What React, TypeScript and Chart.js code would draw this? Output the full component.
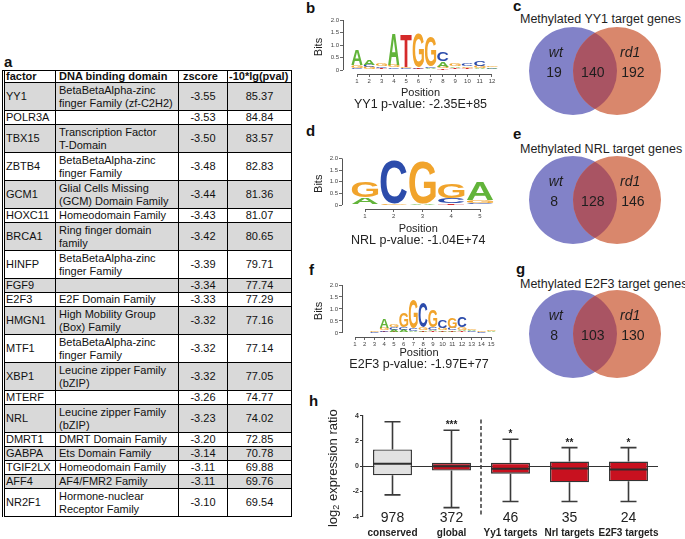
import React, { useEffect, useRef } from 'react';
import { Chart, registerables } from 'chart.js';

Chart.register(...registerables);

const FONT = '"Liberation Sans", Arial, Helvetica, sans-serif';
Chart.defaults.font.family = FONT;

// ---------------- panel a: table ----------------
const tableHeader = ['factor', 'DNA binding domain', 'zscore', '-10*lg(pval)'];
const factors = ['YY1', 'POLR3A', 'TBX15', 'ZBTB4', 'GCM1', 'HOXC11', 'BRCA1', 'HINFP', 'FGF9', 'E2F3',
  'HMGN1', 'MTF1', 'XBP1', 'MTERF', 'NRL', 'DMRT1', 'GABPA', 'TGIF2LX', 'AFF4', 'NR2F1'];
const domains = [
  'BetaBetaAlpha-zinc\nfinger Family (zf-C2H2)', '', 'Transcription Factor\nT-Domain',
  'BetaBetaAlpha-zinc\nfinger Family', 'Glial Cells Missing\n(GCM) Domain Family', 'Homeodomain Family',
  'Ring finger domain\nfamily', 'BetaBetaAlpha-zinc\nfinger Family', '', 'E2F Domain Family',
  'High Mobility Group\n(Box) Family', 'BetaBetaAlpha-zinc\nfinger Family', 'Leucine zipper Family\n(bZIP)',
  '', 'Leucine zipper Family\n(bZIP)', 'DMRT Domain Family', 'Ets Domain Family', 'Homeodomain Family',
  'AF4/FMR2 Family', 'Hormone-nuclear\nReceptor Family'];
const zscores = ['-3.55', '-3.53', '-3.50', '-3.48', '-3.44', '-3.43', '-3.42', '-3.39', '-3.34', '-3.33',
  '-3.32', '-3.32', '-3.32', '-3.26', '-3.23', '-3.20', '-3.14', '-3.11', '-3.11', '-3.10'];
const pvals = ['85.37', '84.84', '83.57', '82.83', '81.36', '81.07', '80.65', '79.71', '77.74', '77.29',
  '77.16', '77.14', '77.05', '74.77', '74.02', '72.85', '70.78', '69.88', '69.76', '69.54'];

// ---------------- motifs (bottom -> top, bits) ----------------
type Col = [string, number][];
const yy1Motif: Col[] = [
  [['T', 0.03], ['C', 0.05], ['G', 0.12], ['A', 0.62]],
  [['T', 0.03], ['G', 0.08], ['C', 0.1], ['A', 0.2]],
  [['A', 0.04], ['T', 0.05], ['C', 0.07], ['G', 0.12]],
  [['T', 0.04], ['C', 0.06], ['G', 0.12], ['A', 1.24]],
  [['A', 0.03], ['C', 0.04], ['G', 0.05], ['T', 1.3]],
  [['A', 0.02], ['C', 0.03], ['T', 0.07], ['G', 1.35]],
  [['T', 0.03], ['A', 0.04], ['C', 0.06], ['G', 1.2]],
  [['T', 0.06], ['G', 0.08], ['A', 0.2], ['C', 0.38]],
  [['C', 0.03], ['T', 0.05], ['A', 0.06], ['G', 0.1]],
  [['A', 0.03], ['T', 0.05], ['G', 0.07], ['C', 0.1]],
  [['T', 0.03], ['A', 0.05], ['G', 0.08], ['C', 0.2]],
  [['T', 0.02], ['C', 0.04], ['A', 0.05], ['G', 0.07]],
];
const nrlMotif: Col[] = [
  [['T', 0.03], ['A', 0.3], ['G', 0.65]],
  [['A', 0.02], ['G', 0.03], ['C', 1.88]],
  [['T', 0.02], ['A', 0.03], ['G', 1.8]],
  [['T', 0.07], ['C', 0.22], ['G', 0.6]],
  [['C', 0.1], ['G', 0.12], ['A', 0.78]],
];
const e2f3Motif: Col[] = [
  [['A', 0.01], ['C', 0.01], ['G', 0.02]],
  [['T', 0.01], ['C', 0.02], ['G', 0.02]],
  [['A', 0.02], ['C', 0.03], ['G', 0.04]],
  [['T', 0.05], ['C', 0.07], ['G', 0.1], ['A', 0.4]],
  [['T', 0.06], ['A', 0.08], ['C', 0.09], ['G', 0.1]],
  [['T', 0.04], ['A', 0.08], ['C', 0.12], ['G', 0.62]],
  [['T', 0.03], ['A', 0.06], ['C', 0.12], ['G', 1.18]],
  [['T', 0.05], ['A', 0.07], ['G', 0.13], ['C', 1.05]],
  [['T', 0.07], ['A', 0.06], ['C', 0.12], ['G', 0.7]],
  [['T', 0.05], ['A', 0.06], ['G', 0.1], ['C', 0.33]],
  [['T', 0.06], ['A', 0.06], ['C', 0.1], ['G', 0.45]],
  [['T', 0.08], ['A', 0.06], ['G', 0.1], ['C', 0.44]],
  [['T', 0.03], ['C', 0.04], ['A', 0.04], ['G', 0.05]],
  [['A', 0.02], ['C', 0.03], ['G', 0.04]],
  [['C', 0.03], ['A', 0.05], ['G', 0.07]],
];
const bitTicks = [0, 0.5, 1, 1.5, 2];
const letterColors: Record<string, string> = { A: '#62b43a', C: '#2c4cab', G: '#f1a42c', T: '#d52a2a' };

// ---------------- venn ----------------
const vennGroups = ['wt', 'rd1'];
const yy1Venn = [19, 140, 192];
const nrlVenn = [8, 128, 146];
const e2f3Venn = [8, 103, 130];
const vennCenters = [-0.5, 0.5];
const vennRadius = 1;

// ---------------- box plot ----------------
const boxNames = ['conserved', 'global', 'Yy1 targets', 'Nrl targets', 'E2F3 targets'];
const boxCounts = ['978', '372', '46', '35', '24'];
const boxMin = [-2.27, -3.28, -2.8, -2.8, -2.8];
const boxQ1 = [-0.72, -0.35, -0.59, -1.28, -1.2];
const boxMedian = [0.19, 0.0, -0.21, -0.19, -0.27];
const boxQ3 = [1.33, 0.27, 0.27, 0.37, 0.37];
const boxMax = [3.52, 2.85, 2.13, 1.47, 1.47];
const boxStars = ['', '***', '*', '**', '*'];
const boxFill = ['#e2e2e2', '#c8111f', '#c8111f', '#c8111f', '#c8111f'];

function drawGlyph(ctx: CanvasRenderingContext2D, ch: string, color: string, left: number, top: number, w: number, h: number) {
  if (h < 0.4 || w <= 0) return;
  ctx.save();
  ctx.font = `bold 100px ${FONT}`;
  const m = ctx.measureText(ch);
  const gw = m.actualBoundingBoxLeft + m.actualBoundingBoxRight;
  const gh = m.actualBoundingBoxAscent + m.actualBoundingBoxDescent;
  ctx.translate(left, top);
  ctx.scale(w / gw, h / gh);
  ctx.fillStyle = color;
  ctx.textBaseline = 'alphabetic';
  ctx.textAlign = 'left';
  ctx.fillText(ch, m.actualBoundingBoxLeft, m.actualBoundingBoxAscent);
  ctx.restore();
}

const logoPlugin = {
  id: 'logo',
  afterDatasetsDraw(chart: any) {
    const ctx: CanvasRenderingContext2D = chart.ctx;
    const meta = chart.getDatasetMeta(0);
    const data = chart.data.datasets[0].data;
    meta.data.forEach((el: any, i: number) => {
      const { x, y, base, width } = el.getProps(['x', 'y', 'base', 'width'], true);
      const p = data[i];
      drawGlyph(ctx, p.ch, letterColors[p.ch], x - width / 2, Math.min(y, base), width, Math.abs(base - y));
    });
    const xs = chart.scales.x, ys = chart.scales.y;
    const n = chart.options.plugins.logo.n;
    ctx.save();
    ctx.strokeStyle = '#555';
    ctx.lineWidth = 1;
    ctx.beginPath();
    const ax = Math.round(chart.chartArea.left) + 0.5;
    ctx.moveTo(ax, ys.getPixelForValue(0));
    ctx.lineTo(ax, ys.getPixelForValue(2));
    const ay = Math.round(chart.chartArea.bottom) + 0.5;
    ctx.moveTo(xs.getPixelForValue(1), ay);
    ctx.lineTo(xs.getPixelForValue(n), ay);
    ctx.stroke();
    ctx.fillStyle = '#222';
    ctx.font = `12.5px ${FONT}`;
    ctx.textAlign = 'center';
    ctx.textBaseline = 'middle';
    const cx = (chart.chartArea.left + chart.chartArea.right) / 2;
    ctx.fillText(chart.options.plugins.logo.pLabel, cx, chart.chartArea.bottom + chart.options.plugins.logo.pOffset);
    ctx.restore();
  },
};

function logoConfig(motif: Col[], o: any) {
  const points: any[] = [];
  motif.forEach((col, i) => {
    let base = 0;
    col.forEach(([ch, h]) => {
      points.push({ x: i + 1, y: [base, base + h], ch });
      base += h;
    });
  });
  return {
    type: 'bar',
    data: {
      datasets: [{ data: points, backgroundColor: 'rgba(0,0,0,0)', borderWidth: 0, barPercentage: 1, categoryPercentage: 0.92 }],
    },
    options: {
      animation: false,
      responsive: false,
      events: [],
      layout: { padding: { top: o.padTop, right: o.padRight, left: 0, bottom: 0 } },
      plugins: {
        legend: { display: false },
        tooltip: { enabled: false },
        logo: { n: motif.length, pLabel: o.pLabel, pOffset: o.pOffset },
      },
      scales: {
        x: {
          type: 'linear',
          min: o.xmin,
          max: o.xmax,
          offset: false,
          afterBuildTicks: (s: any) => { s.ticks = motif.map((_, i) => ({ value: i + 1 })); },
          afterFit: (s: any) => { s.height = o.xHeight; },
          ticks: { font: { size: 6 }, color: '#444', padding: 1, autoSkip: false, maxRotation: 0, minRotation: 0 },
          grid: { display: true, drawOnChartArea: false, drawTicks: true, tickLength: 3, color: '#666', offset: false },
          border: { display: false },
          title: { display: true, text: 'Position', font: { size: 11 }, color: '#222', padding: { top: 0, bottom: o.titlePad } },
        },
        y: {
          type: 'linear',
          min: o.ymin,
          max: 2,
          afterBuildTicks: (s: any) => { s.ticks = bitTicks.map((v) => ({ value: v })); },
          afterFit: (s: any) => { s.width = o.yWidth; },
          ticks: { font: { size: 6 }, color: '#444', padding: 1 },
          grid: { display: true, drawOnChartArea: false, drawTicks: true, tickLength: 3, color: '#666' },
          border: { display: false },
          title: { display: true, text: 'Bits', font: { size: 11 }, color: '#222', padding: { top: 12, bottom: 0 } },
        },
      },
    },
    plugins: [logoPlugin],
  };
}

const vennPlugin = {
  id: 'venn',
  beforeDatasetsDraw(chart: any) {
    const ctx: CanvasRenderingContext2D = chart.ctx;
    const xs = chart.scales.x, ys = chart.scales.y;
    const r = xs.getPixelForValue(vennRadius) - xs.getPixelForValue(0);
    const cy = ys.getPixelForValue(0);
    const c1 = xs.getPixelForValue(vennCenters[0]);
    const c2 = xs.getPixelForValue(vennCenters[1]);
    const circle = (cx: number) => { ctx.beginPath(); ctx.arc(cx, cy, r, 0, Math.PI * 2); };
    ctx.save();
    ctx.fillStyle = '#8282c8';
    circle(c1); ctx.fill();
    ctx.fillStyle = '#d9876c';
    circle(c2); ctx.fill();
    circle(c1); ctx.clip();
    ctx.fillStyle = '#a95463';
    circle(c2); ctx.fill();
    ctx.restore();
  },
  afterDatasetsDraw(chart: any) {
    const ctx: CanvasRenderingContext2D = chart.ctx;
    const data = chart.data.datasets[0].data;
    const meta = chart.getDatasetMeta(0);
    ctx.save();
    ctx.fillStyle = '#1e1e1e';
    ctx.textAlign = 'center';
    ctx.textBaseline = 'middle';
    meta.data.forEach((pt: any, i: number) => {
      const d = data[i];
      ctx.font = d.italic ? `italic 14px ${FONT}` : `14px ${FONT}`;
      ctx.fillText(d.text, pt.x, pt.y);
    });
    ctx.restore();
  },
};

function vennConfig(counts: number[]) {
  const pts = [
    { x: -0.89, y: 0.41, text: vennGroups[0], italic: true },
    { x: 0.8, y: 0.41, text: vennGroups[1], italic: true },
    { x: -0.93, y: -0.05, text: String(counts[0]) },
    { x: -0.05, y: -0.05, text: String(counts[1]) },
    { x: 0.86, y: -0.05, text: String(counts[2]) },
  ];
  return {
    type: 'scatter',
    data: { datasets: [{ data: pts, pointRadius: 0 }] },
    options: {
      animation: false,
      responsive: false,
      events: [],
      layout: { padding: 0 },
      plugins: { legend: { display: false }, tooltip: { enabled: false } },
      scales: {
        x: { display: false, min: -72 / 44, max: 72 / 44 },
        y: { display: false, min: -46 / 44, max: 46 / 44 },
      },
    },
    plugins: [vennPlugin],
  };
}

const boxPlugin = {
  id: 'boxplot',
  beforeDatasetsDraw(chart: any) {
    const ctx: CanvasRenderingContext2D = chart.ctx;
    const { chartArea } = chart;
    const xs = chart.scales.x, ys = chart.scales.y;
    ctx.save();
    ctx.strokeStyle = '#333';
    ctx.lineWidth = 1;
    const y0 = Math.round(ys.getPixelForValue(0)) + 0.5;
    ctx.beginPath();
    ctx.moveTo(chartArea.left, y0);
    ctx.lineTo(chartArea.right, y0);
    ctx.stroke();
    ctx.lineWidth = 1.6;
    ctx.strokeStyle = '#3a3a3a';
    boxNames.forEach((_, i) => {
      const x = xs.getPixelForValue(i);
      const cap = 8;
      ctx.beginPath();
      ctx.moveTo(x, ys.getPixelForValue(boxMin[i]));
      ctx.lineTo(x, ys.getPixelForValue(boxQ1[i]));
      ctx.moveTo(x, ys.getPixelForValue(boxQ3[i]));
      ctx.lineTo(x, ys.getPixelForValue(boxMax[i]));
      ctx.moveTo(x - cap, ys.getPixelForValue(boxMin[i]));
      ctx.lineTo(x + cap, ys.getPixelForValue(boxMin[i]));
      ctx.moveTo(x - cap, ys.getPixelForValue(boxMax[i]));
      ctx.lineTo(x + cap, ys.getPixelForValue(boxMax[i]));
      ctx.stroke();
    });
    const xd = (xs.getPixelForValue(1) + xs.getPixelForValue(2)) / 2;
    ctx.setLineDash([4, 2.5]);
    ctx.lineWidth = 1.5;
    ctx.beginPath();
    ctx.moveTo(xd, ys.getPixelForValue(3.7));
    ctx.lineTo(xd, ys.getPixelForValue(-4));
    ctx.stroke();
    ctx.restore();
  },
  afterDatasetsDraw(chart: any) {
    const ctx: CanvasRenderingContext2D = chart.ctx;
    const { chartArea } = chart;
    const xs = chart.scales.x, ys = chart.scales.y;
    const meta = chart.getDatasetMeta(0);
    ctx.save();
    ctx.strokeStyle = '#2e2e2e';
    ctx.lineWidth = 2;
    boxNames.forEach((_, i) => {
      const el = meta.data[i];
      const w = el.width;
      const x = xs.getPixelForValue(i);
      const ym = ys.getPixelForValue(boxMedian[i]);
      ctx.beginPath();
      ctx.moveTo(x - w / 2, ym);
      ctx.lineTo(x + w / 2, ym);
      ctx.stroke();
    });
    ctx.fillStyle = '#222';
    ctx.textAlign = 'center';
    boxNames.forEach((name, i) => {
      const x = xs.getPixelForValue(i);
      if (boxStars[i]) {
        ctx.font = `bold 10px ${FONT}`;
        ctx.textBaseline = 'alphabetic';
        ctx.fillText(boxStars[i], x, ys.getPixelForValue(boxMax[i]) - 2);
      }
      ctx.textBaseline = 'middle';
      ctx.font = `14px ${FONT}`;
      ctx.fillText(boxCounts[i], x, chartArea.bottom + 1.5);
      ctx.font = `bold 10px ${FONT}`;
      ctx.fillText(name, x, chartArea.bottom + 16.5);
    });
    const cy = (chartArea.top + chartArea.bottom) / 2 + 2;
    ctx.translate(13, cy);
    ctx.rotate(-Math.PI / 2);
    ctx.textAlign = 'left';
    ctx.textBaseline = 'middle';
    const big = `13px ${FONT}`, small = `9px ${FONT}`;
    ctx.font = big;
    const w1 = ctx.measureText('log').width;
    const w3 = ctx.measureText(' expression ratio').width;
    ctx.font = small;
    const w2 = ctx.measureText('2').width;
    const sx = -(w1 + w2 + w3) / 2;
    ctx.font = big;
    ctx.fillText('log', sx, 0);
    ctx.font = small;
    ctx.fillText('2', sx + w1, 4);
    ctx.font = big;
    ctx.fillText(' expression ratio', sx + w1 + w2, 0);
    ctx.restore();
  },
};

function boxConfig() {
  return {
    type: 'bar',
    data: {
      labels: boxNames,
      datasets: [{
        data: boxQ1.map((q, i) => [q, boxQ3[i]]),
        backgroundColor: boxFill,
        borderColor: '#333',
        borderWidth: 1.4,
        borderSkipped: false,
        barPercentage: 0.66,
        categoryPercentage: 1,
      }],
    },
    options: {
      animation: false,
      responsive: false,
      events: [],
      layout: { padding: { top: 20.7, right: 27, bottom: 22.3, left: 0 } },
      plugins: { legend: { display: false }, tooltip: { enabled: false } },
      scales: {
        x: { display: false },
        y: {
          min: -4,
          max: 4,
          afterFit: (s: any) => { s.width = 43; },
          ticks: { stepSize: 2, font: { size: 7, weight: 'bold' }, color: '#333', padding: 1 },
          grid: { display: true, drawOnChartArea: false, drawTicks: true, tickLength: 3, color: '#333' },
          border: { display: true, color: '#333', width: 1.2 },
        },
      },
    },
    plugins: [boxPlugin],
  };
}

function ChartCanvas({ left, top, width, height, make }: any) {
  const ref = useRef<HTMLCanvasElement>(null);
  useEffect(() => {
    const chart = new Chart(ref.current as HTMLCanvasElement, make() as any);
    return () => chart.destroy();
  }, []);
  return (
    <canvas ref={ref} width={width} height={height}
      style={{ position: 'absolute', left, top, width, height }} />
  );
}

const colW = [51, 123, 49, 63];
const headPad = [1, 3, 4, 1];

function Row({ cells, h, bold, bg, lh }: any) {
  return (
    <div style={{ display: 'flex', height: h, boxSizing: 'border-box', borderBottom: '1px solid #000', background: bg }}>
      {cells.map((c: string, j: number) => (
        <div key={j} style={{
          width: colW[j], boxSizing: 'border-box', borderRight: j < 3 ? '1px solid #000' : 'none',
          display: 'flex', flexDirection: 'column', justifyContent: 'center',
          paddingLeft: bold ? headPad[j] : (j === 0 ? 1 : j === 1 ? 3 : 0),
          textAlign: !bold && j >= 2 ? 'center' : 'left', whiteSpace: 'nowrap', overflow: 'hidden',
          fontWeight: bold ? 'bold' : 'normal', lineHeight: lh,
        }}>
          {c.split('\n').map((line, k) => <div key={k}>{line}</div>)}
        </div>
      ))}
    </div>
  );
}

function Table() {
  return (
    <div style={{
      position: 'absolute', left: 2, top: 70, width: 290, boxSizing: 'border-box',
      borderTop: '1px solid #000', borderLeft: '3px double #000', borderRight: '1px solid #000',
      fontSize: 11, color: '#111', fontFamily: FONT,
    }}>
      <Row cells={tableHeader} h={12} bold bg="#fff" lh="11px" />
      {factors.map((f, i) => (
        <Row key={f} cells={[f, domains[i], zscores[i], pvals[i]]}
          h={domains[i].includes('\n') ? 28 : 14} bg={i % 2 === 0 ? '#d9d9d9' : '#fff'} lh="13px" />
      ))}
    </div>
  );
}

const letterStyle: any = { position: 'absolute', fontFamily: FONT, fontWeight: 'bold', fontSize: 15, lineHeight: '15px', color: '#111' };
const vennTitleStyle: any = { position: 'absolute', fontFamily: FONT, fontSize: 12.5, lineHeight: '15px', color: '#1e1e1e', whiteSpace: 'nowrap' };

export default function App() {
  useEffect(() => { document.body.style.margin = '0'; }, []);
  return (
    <div style={{ position: 'absolute', left: 0, top: 0, width: 685, height: 539, background: '#fff', overflow: 'hidden' }}>
      <div style={{ ...letterStyle, left: 4, top: 54 }}>a</div>
      <Table />

      <div style={{ ...letterStyle, left: 306, top: 0 }}>b</div>
      <ChartCanvas left={300} top={10} width={205} height={102}
        make={() => logoConfig(yy1Motif, { padTop: 10, padRight: 7, xmin: -0.141, xmax: 12.49, ymin: -0.16, yWidth: 43, xHeight: 38, titlePad: 12.7, pLabel: 'YY1 p-value: -2.35E+85', pOffset: 31 })} />
      <div style={{ ...letterStyle, left: 306, top: 123 }}>d</div>
      <ChartCanvas left={300} top={148} width={205} height={100}
        make={() => logoConfig(nrlMotif, { padTop: 10.5, padRight: 10.6, xmin: 0.2, xmax: 5.5, ymin: -0.172, yWidth: 42, xHeight: 39, titlePad: 12.4, pLabel: 'NRL p-value: -1.04E+74', pOffset: 32 })} />
      <div style={{ ...letterStyle, left: 309, top: 262 }}>f</div>
      <ChartCanvas left={300} top={275} width={205} height={97}
        make={() => logoConfig(e2f3Motif, { padTop: 10, padRight: 9, xmin: -0.338, xmax: 15.5, ymin: -0.167, yWidth: 42, xHeight: 35, titlePad: 12.4, pLabel: 'E2F3 p-value: -1.97E+77', pOffset: 28 })} />

      <div style={{ ...letterStyle, left: 513, top: -2 }}>c</div>
      <div style={{ ...vennTitleStyle, left: 520, top: 12 }}>Methylated YY1 target genes</div>
      <ChartCanvas left={523} top={25} width={144} height={92} make={() => vennConfig(yy1Venn)} />
      <div style={{ ...letterStyle, left: 513, top: 126 }}>e</div>
      <div style={{ ...vennTitleStyle, left: 520, top: 142 }}>Methylated NRL target genes</div>
      <ChartCanvas left={523} top={154} width={144} height={92} make={() => vennConfig(nrlVenn)} />
      <div style={{ ...letterStyle, left: 516, top: 261 }}>g</div>
      <div style={{ ...vennTitleStyle, left: 520, top: 277 }}>Methylated E2F3 target genes</div>
      <ChartCanvas left={523} top={288} width={144} height={92} make={() => vennConfig(e2f3Venn)} />

      <div style={{ ...letterStyle, left: 309, top: 393 }}>h</div>
      <ChartCanvas left={320} top={395} width={365} height={144} make={boxConfig} />
    </div>
  );
}
